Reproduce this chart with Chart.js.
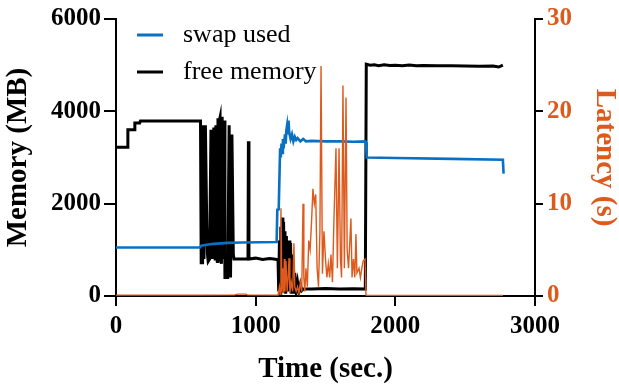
<!DOCTYPE html>
<html><head><meta charset="utf-8">
<script src="https://cdn.jsdelivr.net/npm/chart.js@4.4.1/dist/chart.umd.min.js"></script>
<style>html,body{margin:0;padding:0;background:#fff}#wrap{width:619px;height:387px}</style>
</head><body><div id="wrap"><canvas id="c" width="619" height="387"></canvas></div>
<script>
// ---- data ----
const xTicks = [0, 1000, 2000, 3000];
const memTicks = [0, 2000, 4000, 6000];
const latTicks = [0, 10, 20, 30];

const freeTime = [0,80,85,130,135,170,175,600,605,610,620,625,630,640,650,655,660,670,680,690,695,700,710,715,720,725,730,735,740,745,750,755,760,770,775,780,800,810,820,830,840,845,900,945,948,952,1000,1050,1100,1130,1150,1160,1165,1170,1175,1180,1185,1190,1195,1200,1205,1210,1215,1220,1225,1230,1235,1240,1245,1250,1255,1260,1265,1270,1275,1280,1290,1300,1310,1320,1330,1340,1400,1500,1600,1700,1785,1792,1820,1850,1880,1920,1960,2000,2050,2100,2150,2200,2300,2400,2500,2600,2700,2740,2770];
const freeMB =   [3220,3220,3600,3600,3750,3750,3790,3790,3790,720,720,3700,800,3700,1500,900,750,800,3600,800,3500,3650,800,3700,900,750,3850,800,3800,3870,800,700,3880,800,3800,400,400,3700,400,3500,900,800,800,800,3350,800,820,790,810,800,790,790,100,1200,60,1500,100,1700,200,1600,100,1400,50,1300,200,1100,100,1200,100,1150,80,900,100,700,80,500,100,300,100,250,120,150,150,160,150,155,150,5020,5000,5010,4990,5010,4995,5000,4990,5005,4985,4995,4990,4985,4980,4975,4980,4960,5000];

const swapTime = [0,600,610,650,700,800,900,1150,1155,1165,1175,1180,1185,1190,1195,1200,1210,1215,1220,1225,1230,1235,1240,1250,1260,1270,1280,1290,1300,1320,1340,1360,1400,1500,1600,1700,1785,1790,1795,2000,2400,2770,2775];
const swapMB =   [1050,1050,1090,1110,1130,1150,1160,1170,1870,1880,3200,3000,3300,3100,3400,3200,3500,3300,3600,3700,3500,3800,3550,3400,3500,3350,3450,3380,3420,3350,3400,3350,3360,3350,3350,3340,3350,3330,3000,2990,2970,2950,2650];

const latTime = [0,200,400,600,850,870,930,940,1160,1170,1175,1181,1188,1195,1200,1205,1210,1217,1225,1232,1239,1245,1255,1265,1274,1280,1290,1300,1310,1320,1330,1339,1345,1352,1360,1370,1380,1390,1400,1410,1420,1430,1440,1450,1460,1468,1478,1489,1500,1510,1520,1530,1539,1550,1560,1575,1585,1597,1607,1615,1625,1635,1647,1655,1665,1682,1690,1700,1710,1718,1725,1740,1750,1760,1770,1783,1790,1800,2200,2770];
const latSec =  [0.1,0.1,0.1,0.1,0.12,0.2,0.2,0.12,0.1,1,0.2,9.5,0.5,3,0.3,4,0.5,3.8,0.5,2,4.1,0.3,1.5,0.5,5.7,1,0.5,1,0.3,1.5,0.5,10,2,0.5,3,1,6,5,8,11.6,10,11,3,1,7,24.9,2.4,7,4,2,3.5,2,4.5,1.5,8,16,3,16,4,2,22.8,3,21.5,5,3,8.4,2,4,2,6.7,2.5,3,2,3,3.8,4,0.1,0.05,0.05,0.05];

const BLUE = '#0a70c2', ORANGE = '#dd5a1c', BLACK = '#000';
const SERIF = '"Liberation Serif", "Times New Roman", serif';

const pts = (t, v) => t.map((x, i) => ({x, y: v[i]}));
const plain = v => String(v);

const legendPlugin = {
  id: 'insideLegend',
  afterDraw(chart) {
    const ctx = chart.ctx;
    const items = chart.data.datasets.filter(d => d.showInLegend);
    ctx.save();
    ctx.font = 'normal 400 26px ' + SERIF;
    ctx.textBaseline = 'middle';
    items.forEach((d, i) => {
      const y = 35 + i * 37;
      ctx.strokeStyle = d.borderColor; ctx.lineWidth = 3;
      ctx.beginPath(); ctx.moveTo(137, y); ctx.lineTo(163, y); ctx.stroke();
      ctx.fillStyle = '#000';
      ctx.fillText(d.label, 183, y);
    });
    ctx.restore();
  }
};

new Chart(document.getElementById('c'), {
  type: 'line',
  data: {
    datasets: [
      {label: 'Latency', data: pts(latTime, latSec), yAxisID: 'y2', borderColor: ORANGE, borderWidth: 1.4, pointRadius: 0, order: 0, showInLegend: false},
      {label: 'swap used', data: pts(swapTime, swapMB), yAxisID: 'y', borderColor: BLUE, borderWidth: 2.6, pointRadius: 0, order: 1, showInLegend: true},
      {label: 'free memory', data: pts(freeTime, freeMB), yAxisID: 'y', borderColor: BLACK, borderWidth: 3, pointRadius: 0, order: 2, showInLegend: true}
    ]
  },
  options: {
    responsive: false, animation: false,
    layout: {padding: {top: 16, left: 0, right: 0, bottom: 0}},
    plugins: {legend: {display: false}, tooltip: {enabled: false}},
    elements: {line: {tension: 0}},
    scales: {
      x: {
        type: 'linear', min: 0, max: 3000,
        afterBuildTicks: s => { s.ticks = xTicks.map(v => ({value: v})); },
        afterFit: s => { s.height = 91; },
        grid: {drawOnChartArea: false, drawTicks: true, tickLength: 10, color: BLACK, lineWidth: 2},
        border: {display: true, color: BLACK, width: 2},
        ticks: {color: BLACK, font: {family: SERIF, size: 25, weight: 'bold'}, padding: 6, maxRotation: 0, callback: plain},
        title: {display: true, text: 'Time (sec.)', color: BLACK, font: {family: SERIF, size: 29, weight: 'bold'}, padding: {top: 2, bottom: 0}}
      },
      y: {
        position: 'left', min: 0, max: 6000,
        afterBuildTicks: s => { s.ticks = memTicks.map(v => ({value: v})); },
        afterFit: s => { s.width = 116; },
        grid: {drawOnChartArea: false, drawTicks: true, tickLength: 12, color: BLACK, lineWidth: 2},
        border: {display: true, color: BLACK, width: 2},
        ticks: {color: BLACK, font: {family: SERIF, size: 25, weight: 'bold'}, padding: 3, callback: plain},
        title: {display: true, text: 'Memory (MB)', color: BLACK, font: {family: SERIF, size: 29, weight: 'bold', lineHeight: 1}, padding: {top: 4.5, bottom: 2}}
      },
      y2: {
        position: 'right', min: 0, max: 30,
        afterBuildTicks: s => { s.ticks = latTicks.map(v => ({value: v})); },
        afterFit: s => { s.width = 84; },
        grid: {drawOnChartArea: false, drawTicks: true, tickLength: 8, color: BLACK, lineWidth: 2},
        border: {display: true, color: BLACK, width: 2},
        ticks: {color: ORANGE, font: {family: SERIF, size: 25, weight: 'bold'}, padding: 4, callback: plain},
        title: {display: true, text: 'Latency (s)', color: ORANGE, font: {family: SERIF, size: 29, weight: 'bold', lineHeight: 1}, padding: {top: 0.5, bottom: 0}}
      }
    }
  },
  plugins: [legendPlugin]
});
</script></body></html>
